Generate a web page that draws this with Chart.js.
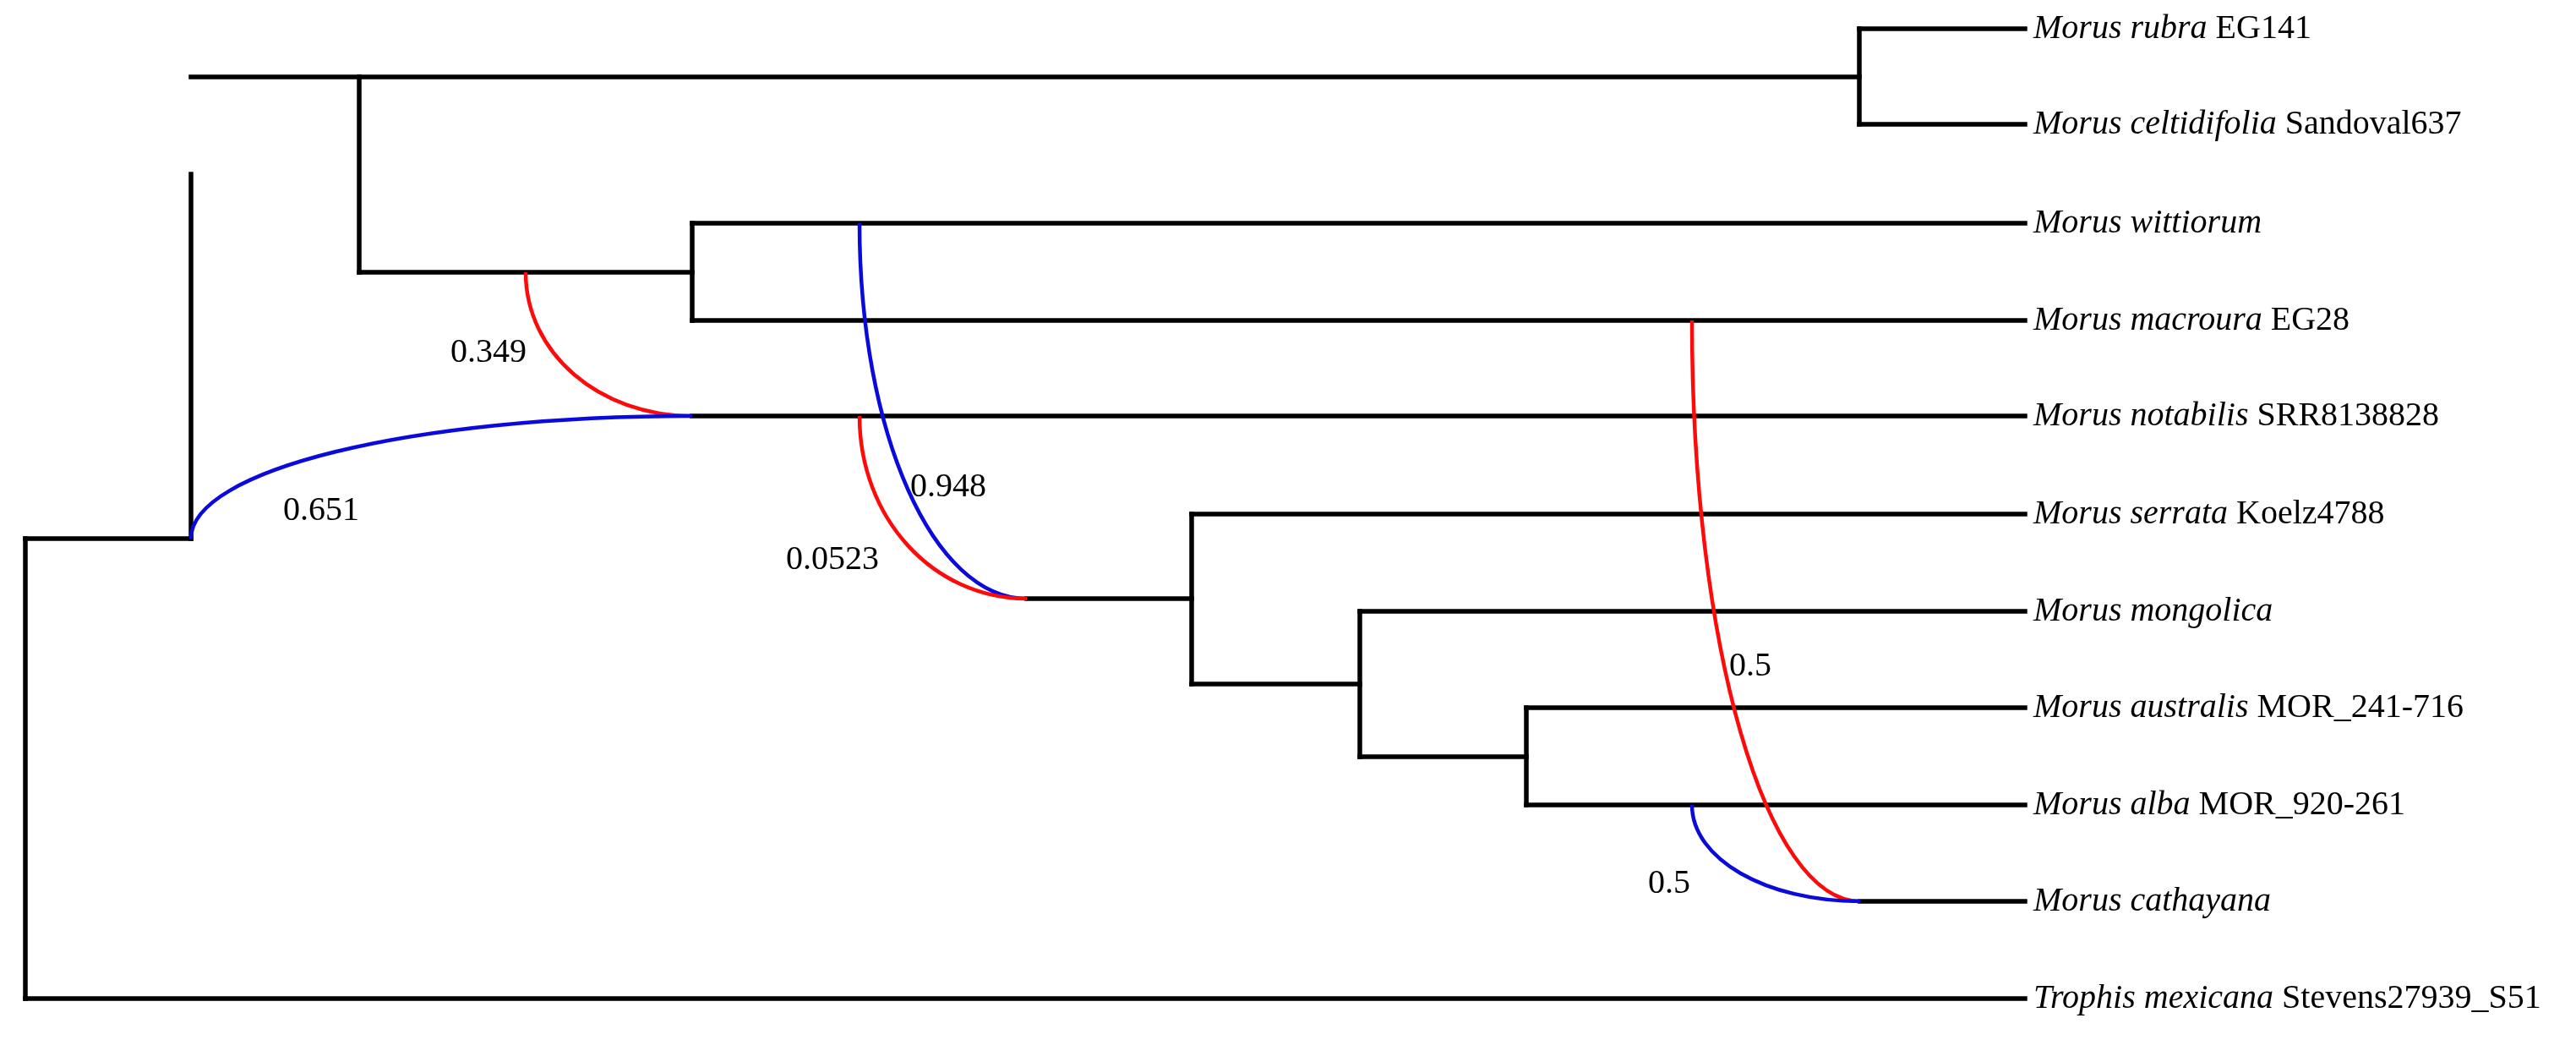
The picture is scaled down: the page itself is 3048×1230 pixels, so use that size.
<!DOCTYPE html>
<html><head><meta charset="utf-8">
<script src="https://cdn.jsdelivr.net/npm/chart.js@4"></script>
<style>html,body{margin:0;padding:0;background:#fff}canvas{display:block}</style>
</head><body>
<canvas id="c" width="3048" height="1230"></canvas>
<script>
// Tips (top to bottom)
const tipGenus = ["Morus rubra","Morus celtidifolia","Morus wittiorum","Morus macroura","Morus notabilis","Morus serrata","Morus mongolica","Morus australis","Morus alba","Morus cathayana","Trophis mexicana"];
const tipSuffix = ["EG141","Sandoval637","","EG28","SRR8138828","Koelz4788","","MOR_241-716","MOR_920-261","","Stevens27939_S51"];
const tipRow = [34,147,264,379,492,608,723,837,952,1066,1181];
const tipEnd = 2396;
// Tree edges: [x start, x end, y] horizontals and [x, y top, y bottom] verticals
const hEdges = [[30,226,637],[226,425,91],[425,2200,91],[2200,tipEnd,34],[2200,tipEnd,147],[425,819,322],[819,tipEnd,264],[819,tipEnd,379],
  [819,tipEnd,492],[1215,1410,708],[1410,tipEnd,608],[1410,1609,809],[1609,tipEnd,723],[1609,1806,895],[1806,tipEnd,837],[1806,tipEnd,952],
  [2201,tipEnd,1066],[30,tipEnd,1181]];
const vEdges = [[30,637,1181],[226,206,637],[425,91,322],[2200,34,147],[819,264,379],[1410,608,809],[1609,723,895],[1806,837,952]];
// Reticulation edges: from (x0,y0) to (x1,y1), colour, inheritance probability, label pos
const retFrom = [[622,322],[226,637],[1017,264],[1017,492],[2002,379],[2002,952]];
const retTo = [[819,492],[819,492],[1215,708],[1215,708],[2201,1066],[2201,1066]];
const retColor = ["#ff0a0a","#0a0adc","#0a0adc","#ff0a0a","#ff0a0a","#0a0adc"];
const retProb = ["0.349","0.651","0.948","0.0523","0.5","0.5"];
const retLabelPos = [[533,417],[335,604],[1077,576],[930,662],[2046,788],[1950,1045]];

const datasets = [];
hEdges.forEach(e=>datasets.push({data:[{x:e[0],y:e[2]},{x:e[1],y:e[2]}]}));
vEdges.forEach(e=>datasets.push({data:[{x:e[0],y:e[1]},{x:e[0],y:e[2]}]}));
datasets.forEach(d=>Object.assign(d,{showLine:true,borderColor:'#000',borderWidth:5.5,pointRadius:0,borderCapStyle:'square'}));

const overlay = {
  id:'overlay',
  afterDatasetsDraw(chart){
    const ctx=chart.ctx, xs=chart.scales.x, ys=chart.scales.y;
    const px=v=>xs.getPixelForValue(v), py=v=>ys.getPixelForValue(v);
    ctx.save();
    retFrom.forEach((f,i)=>{
      const t=retTo[i];
      const x0=px(f[0]),y0=py(f[1]),x1=px(t[0]),y1=py(t[1]);
      const k=0.56;
      ctx.beginPath();ctx.moveTo(x0,y0);
      ctx.bezierCurveTo(x0,y0+k*(y1-y0),x1-k*(x1-x0),y1,x1,y1);
      ctx.strokeStyle=retColor[i];ctx.lineWidth=4.5;ctx.stroke();
    });
    ctx.fillStyle='#000';ctx.textBaseline='middle';ctx.textAlign='left';
    ctx.font='40px "Liberation Serif"';
    retProb.forEach((p,i)=>ctx.fillText(p,px(retLabelPos[i][0]),py(retLabelPos[i][1])));
    tipGenus.forEach((g,i)=>{
      const x=px(tipEnd+10), y=py(tipRow[i]);
      ctx.font='italic 40px "Liberation Serif"';
      ctx.fillText(g,x,y);
      const w=ctx.measureText(g+' ').width;
      ctx.font='40px "Liberation Serif"';
      ctx.fillText(tipSuffix[i],x+w,y);
    });
    ctx.restore();
  }
};

new Chart(document.getElementById('c'),{
  type:'scatter',
  data:{datasets},
  options:{responsive:false,animation:false,devicePixelRatio:1,
    layout:{padding:0},
    plugins:{legend:{display:false},tooltip:{enabled:false}},
    scales:{x:{type:'linear',min:0,max:3048,display:false},y:{type:'linear',min:0,max:1230,reverse:true,display:false}}},
  plugins:[overlay]
});
</script>
</body></html>
